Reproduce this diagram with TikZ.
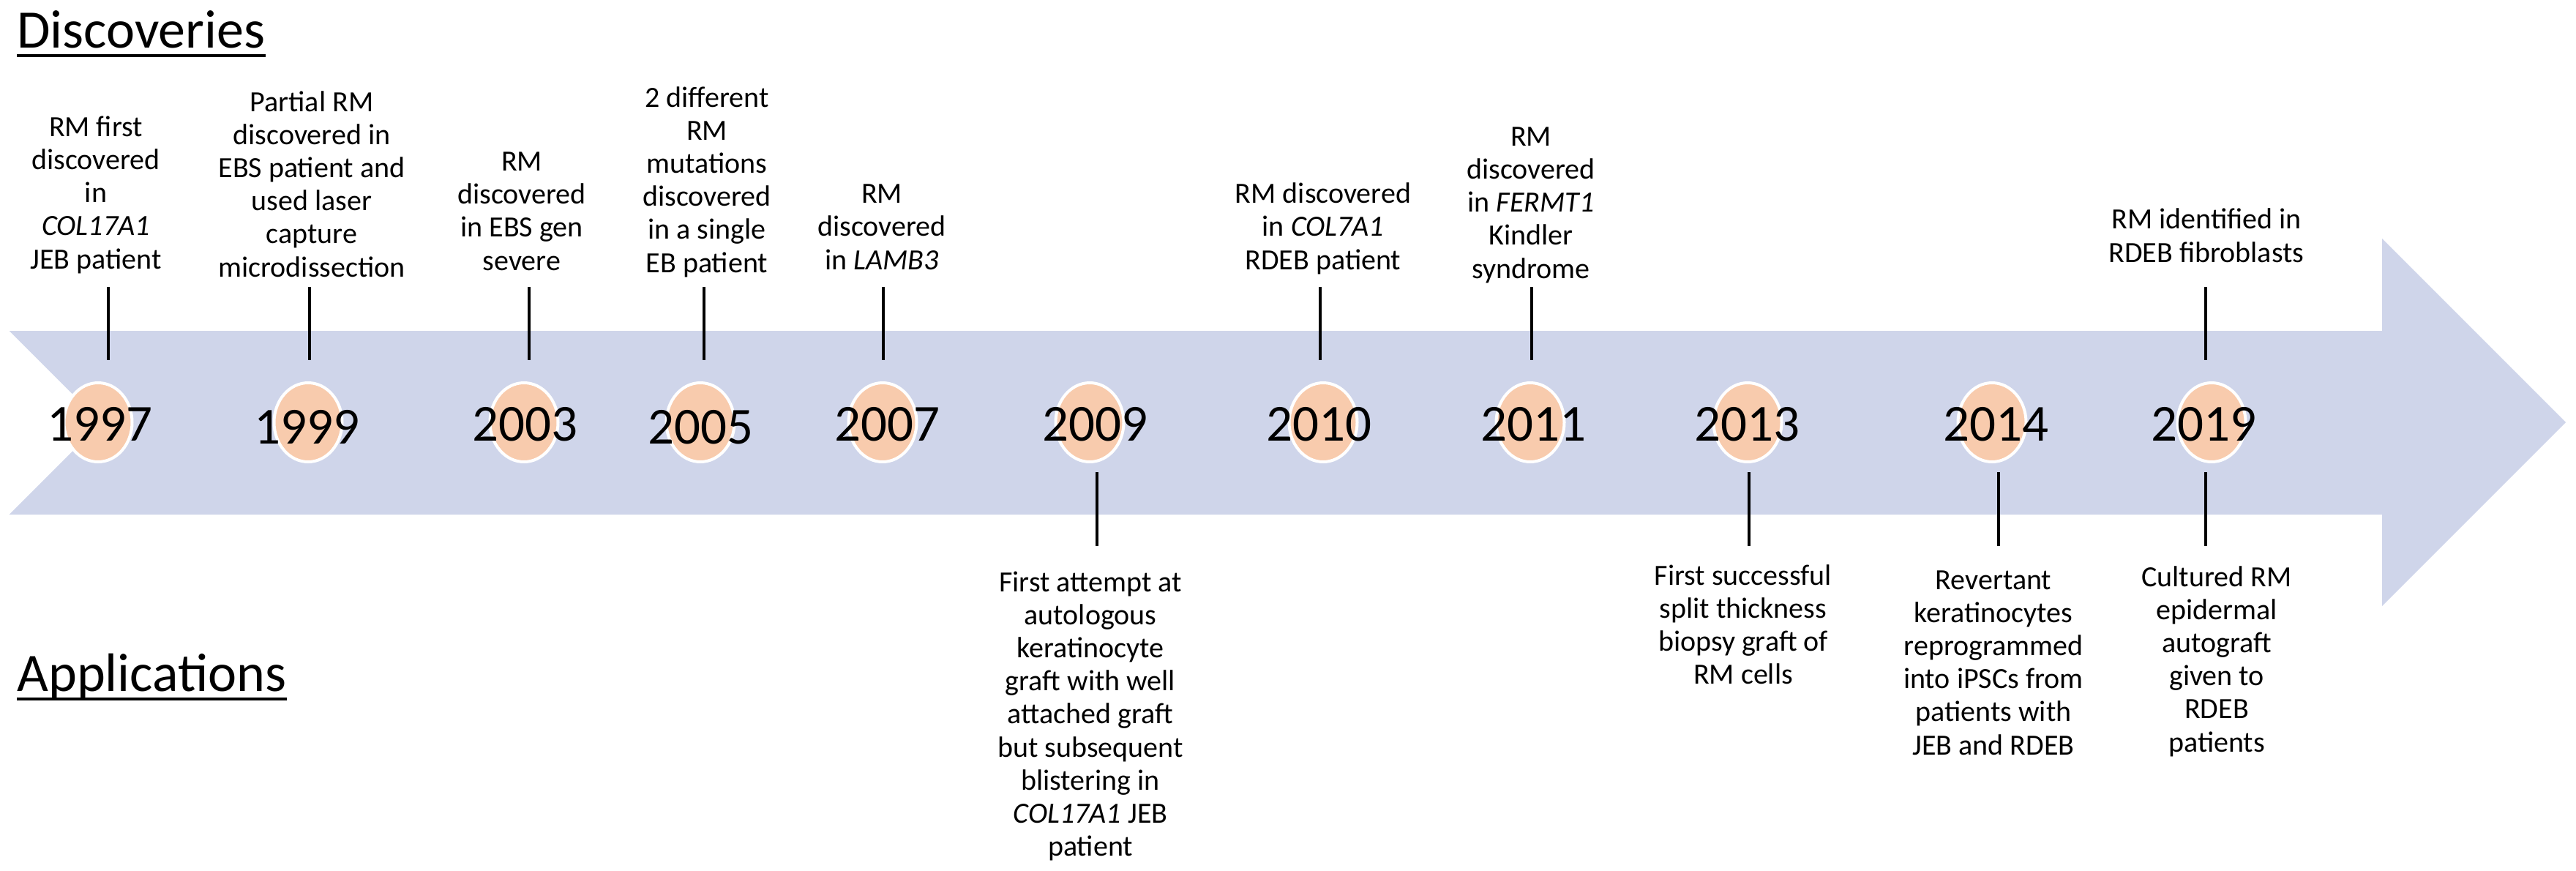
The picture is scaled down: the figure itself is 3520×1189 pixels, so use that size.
\documentclass[tikz,border=0pt]{standalone}
\usepackage{fontspec}
\setmainfont{Carlito}
\usetikzlibrary{shapes.geometric}
\definecolor{arrowblue}{RGB}{207,213,234}
\definecolor{peach}{RGB}{248,203,173}
\begin{document}
\begin{tikzpicture}[x=0.5pt,y=-0.5pt,
  yearcirc/.style={ellipse, fill=peach, draw=white, line width=2pt, minimum width=46.5pt, minimum height=54pt, inner sep=0pt},
  yeartext/.style={font=\fontsize{35.5}{42}\selectfont, inner sep=0pt, anchor=base},
  desctop/.style={font=\fontsize{20}{22.6}\selectfont, align=center, inner sep=0pt, anchor=south},
  descbot/.style={font=\fontsize{20}{22.6}\selectfont, align=center, inner sep=0pt, anchor=north},
  tickline/.style={line width=2pt, black},
  heading/.style={font=\fontsize{37}{44}\selectfont, inner sep=0pt, anchor=base west},
  uline/.style={line width=2.3pt, black}]
\useasboundingbox (0,0) rectangle (3520,1189);
% arrow
\fill[arrowblue] (12.7,452) -- (3255,452) -- (3255,326) -- (3506,577) -- (3255,828) -- (3255,703) -- (12.7,703) -- (138,577.5) -- cycle;
% headings
\node[heading] (disc) at (23,65) {Discoveries};
\draw[uline] ([yshift=-5.5pt]disc.base west) -- ([yshift=-5.5pt]disc.base east);
\node[heading] (appl) at (23,944) {Applications};
\draw[uline] ([yshift=-5.5pt]appl.base west) -- ([yshift=-5.5pt]appl.base east);
% circles
\node[yearcirc] (c1997) at (134,577) {};
\node[yearcirc] (c1999) at (421,577) {};
\node[yearcirc] (c2003) at (716,577) {};
\node[yearcirc] (c2005) at (957,577) {};
\node[yearcirc] (c2007) at (1206,577) {};
\node[yearcirc] (c2009) at (1489,577) {};
\node[yearcirc] (c2010) at (1808,577) {};
\node[yearcirc] (c2011) at (2091,577) {};
\node[yearcirc] (c2013) at (2388,577) {};
\node[yearcirc] (c2014) at (2722,577) {};
\node[yearcirc] (c2019) at (3022,577) {};
% years
\node[yeartext] (y1997) at (136,602) {1997};
\node[yeartext] (y1999) at (419,606) {1999};
\node[yeartext] (y2003) at (717,602) {2003};
\node[yeartext] (y2005) at (957,606) {2005};
\node[yeartext] (y2007) at (1212,602) {2007};
\node[yeartext] (y2009) at (1496,602) {2009};
\node[yeartext] (y2010) at (1802,602) {2010};
\node[yeartext] (y2011) at (2095,602) {2011};
\node[yeartext] (y2013) at (2387,602) {2013};
\node[yeartext] (y2014) at (2727,602) {2014};
\node[yeartext] (y2019) at (3011,602) {2019};
% discoveries texts
\node[desctop] (d1997) at (131,381) {RM first\\discovered\\in\\\textit{COL17A1}\\JEB patient\strut};
\node[desctop] (d1999) at (426,392) {Partial RM\\discovered in\\EBS patient and\\used laser\\capture\\microdissection\strut};
\node[desctop] (d2003) at (713,383) {RM\\discovered\\in EBS gen\\severe\strut};
\node[desctop] (d2005) at (966,386) {2 different\\RM\\mutations\\discovered\\in a single\\EB patient\strut};
\node[desctop] (d2007) at (1205,382) {RM\\discovered\\in \textit{LAMB3}\strut};
\node[desctop] (d2010) at (1808,382) {RM discovered\\in \textit{COL7A1}\\RDEB patient\strut};
\node[desctop] (d2011) at (2092,394) {RM\\discovered\\in \textit{FERMT1}\\Kindler\\syndrome\strut};
\node[desctop] (d2019) at (3015,372) {RM identified in\\RDEB fibroblasts\strut};
% applications texts
\node[descbot] (a2009) at (1490,776) {\strut First attempt at\\autologous\\keratinocyte\\graft with well\\attached graft\\but subsequent\\blistering in\\\textit{COL17A1} JEB\\patient};
\node[descbot] (a2013) at (2382,767) {\strut First successful\\split thickness\\biopsy graft of\\RM cells};
\node[descbot] (a2014) at (2724,773) {\strut Revertant\\keratinocytes\\reprogrammed\\into iPSCs from\\patients with\\JEB and RDEB};
\node[descbot] (a2019) at (3029,769) {\strut Cultured RM\\epidermal\\autograft\\given to\\RDEB\\patients};
% tick coordinates
\foreach \n/\x in {1997/148,1999/423,2003/723,2005/962,2007/1207,2010/1804,2011/2093,2019/3014}{
  \coordinate (ta\n) at (\x,392);
  \coordinate (tb\n) at (\x,492);
  \draw[tickline] (ta\n) -- (tb\n);
}
\foreach \n/\x in {2009/1499,2013/2390,2014/2731,2019/3014}{
  \coordinate (ba\n) at (\x,645);
  \coordinate (bb\n) at (\x,746);
  \draw[tickline] (ba\n) -- (bb\n);
}
\end{tikzpicture}
\end{document}
